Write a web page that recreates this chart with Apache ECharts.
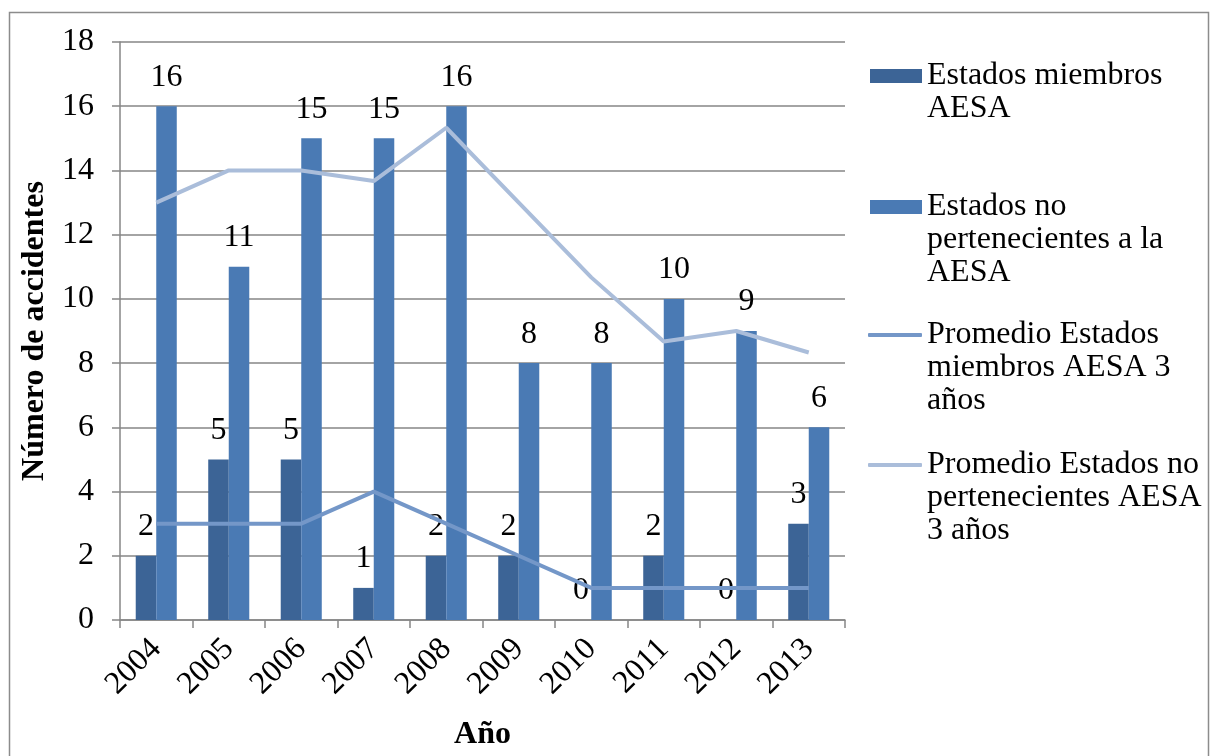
<!DOCTYPE html>
<html>
<head>
<meta charset="utf-8">
<script src="https://cdn.jsdelivr.net/npm/echarts@6/dist/echarts.min.js"></script>
<style>
html,body{margin:0;padding:0;background:#fff;}
#chart{width:1210px;height:756px;}
</style>
</head>
<body>
<div id="chart"></div>
<script>
var categories = ['2004','2005','2006','2007','2008','2009','2010','2011','2012','2013'];
var miembros = [2,5,5,1,2,2,0,2,0,3];
var noMiembros = [16,11,15,15,16,8,8,10,9,6];
var promMiembros = [3,3,3,4,3,2,1,1,1,1];
var promNoMiembros = [13,14,14,13.67,15.33,13,10.67,8.67,9,8.33];
var seriesNames = ['Estados miembros AESA','Estados no pertenecientes a la AESA','Promedio Estados miembros AESA 3 años','Promedio Estados no pertenecientes AESA 3 años'];
var legendLines = [
  ['Estados miembros','AESA'],
  ['Estados no','pertenecientes a la','AESA'],
  ['Promedio Estados','miembros AESA 3','años'],
  ['Promedio Estados no','pertenecientes AESA','3 años']
];
var yTicks = {min:0, max:18, interval:2};
var xAxisTitle = 'Año';
var yAxisTitle = 'Número de accidentes';

var FONT = 'Liberation Serif';
var FS = 32;
var colors = ['#3C6496','#4A7AB4','#7497C8','#AABDDA'];
var LH = 33;
var iconCenters = [76, 207, 335, 465];

var legends = seriesNames.map(function(name, i){
  var n = legendLines[i].length;
  var total = LH * (2 * n - 1);
  var isBar = i < 2;
  return {
    show: true,
    orient: 'vertical',
    left: isBar ? 870 : 868,
    top: iconCenters[i] - total / 2,
    padding: 0,
    itemWidth: isBar ? 52 : 54,
    itemHeight: isBar ? 14 : 4,
    itemGap: 0,
    itemGap: 0,
    selectedMode: false,
    formatter: function(){
      var pre = '';
      for (var k = 0; k < n - 1; k++) pre += '\n';
      return pre + legendLines[i].join('\n');
    },
    textStyle: {
      fontFamily: FONT, fontSize: FS, color: '#000', lineHeight: LH,
      backgroundColor: 'rgba(0,0,0,0)'
    },
    data: [{name: name, icon: isBar ? 'rect' : 'roundRect'}]
  };
});

var labelCfg = {
  show: true, position: 'top', distance: 13,
  fontFamily: FONT, fontSize: FS, color: '#000'
};

var option = {
  animation: false,
  backgroundColor: '#fff',
  color: colors,
  graphic: [{
    type: 'rect', left: 7, top: 10, silent: true,
    shape: {width: 1199, height: 760},
    style: {fill: 'none', stroke: '#8C8C8C', lineWidth: 1.5}
  }],
  legend: legends,
  grid: {left: 120, right: 365, top: 42, bottom: 136, containLabel: false},
  xAxis: {
    type: 'category',
    data: categories,
    name: xAxisTitle,
    nameLocation: 'middle',
    nameGap: 99,
    nameTextStyle: {fontFamily: FONT, fontSize: FS, fontWeight: 'bold', color: '#000'},
    axisLine: {lineStyle: {color: '#868686', width: 1.5}},
    axisTick: {show: true, length: 8, lineStyle: {color: '#868686', width: 1.5}},
    axisLabel: {rotate: 45, margin: 24, fontFamily: FONT, fontSize: FS, color: '#000'}
  },
  yAxis: {
    type: 'value',
    min: yTicks.min, max: yTicks.max, interval: yTicks.interval,
    name: yAxisTitle,
    nameLocation: 'middle',
    nameGap: 64,
    nameTextStyle: {fontFamily: FONT, fontSize: FS, fontWeight: 'bold', color: '#000'},
    axisLine: {show: true, lineStyle: {color: '#868686', width: 1.5}},
    axisTick: {show: true, length: 8, lineStyle: {color: '#868686', width: 1.5}},
    axisLabel: {margin: 26, fontFamily: FONT, fontSize: FS, color: '#000'},
    splitLine: {show: true, lineStyle: {color: '#868686', width: 1.5}}
  },
  series: [
    {
      name: seriesNames[0], type: 'bar', data: miembros,
      barGap: '0%', barCategoryGap: '43.4%',
      itemStyle: {color: colors[0]},
      label: labelCfg, z: 2
    },
    {
      name: seriesNames[1], type: 'bar', data: noMiembros,
      barGap: '0%', barCategoryGap: '43.4%',
      itemStyle: {color: colors[1]},
      label: labelCfg, z: 2
    },
    {
      name: seriesNames[2], type: 'line', data: promMiembros,
      symbol: 'none', showSymbol: false,
      lineStyle: {color: colors[2], width: 4},
      itemStyle: {color: colors[2]}, z: 3
    },
    {
      name: seriesNames[3], type: 'line', data: promNoMiembros,
      symbol: 'none', showSymbol: false,
      lineStyle: {color: colors[3], width: 4},
      itemStyle: {color: colors[3]}, z: 3
    }
  ]
};

var chart = echarts.init(document.getElementById('chart'), null, {renderer: 'canvas'});
chart.setOption(option);
</script>
</body>
</html>
